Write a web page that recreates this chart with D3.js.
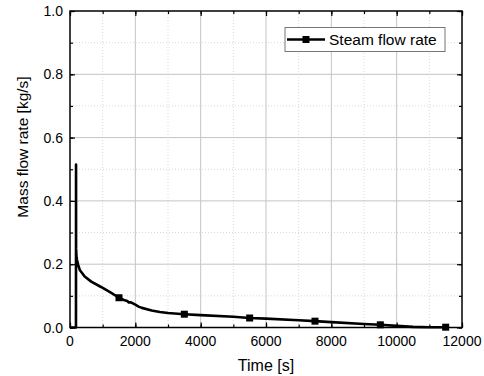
<!DOCTYPE html>
<html>
<head>
<meta charset="utf-8">
<script src="https://cdn.jsdelivr.net/npm/d3@7"></script>
<style>
  body { margin: 0; background: #fff; }
  text { font-family: "Liberation Sans", Arial, sans-serif; fill: #000; }
</style>
</head>
<body>
<svg width="484" height="376"></svg>
<script>
// time [s] and steam mass flow rate [kg/s]
var times = [0, 183, 185, 186, 200, 215, 250, 300, 450, 650, 950, 1250, 1500, 1650, 1750, 1800, 1850, 2000, 2100, 2200, 2500, 2750, 3000, 3500, 4000, 5000, 5500, 6000, 7000, 7500, 8000, 9000, 9500, 10000, 10500, 11000, 11550];
var flows = [0.0, 0.0, 0.515, 0.25, 0.222, 0.213, 0.198, 0.182, 0.161, 0.145, 0.128, 0.110, 0.094, 0.087, 0.084, 0.079, 0.080, 0.072, 0.066, 0.062, 0.054, 0.049, 0.046, 0.042, 0.039, 0.034, 0.030, 0.028, 0.023, 0.020, 0.017, 0.011, 0.0085, 0.005, 0.002, 0.001, 0.001];
var markerTimes = [1500, 3500, 5500, 7500, 9500, 11500];
var markerFlows = [0.094, 0.042, 0.030, 0.020, 0.0085, 0.001];
var xTicks = [0, 2000, 4000, 6000, 8000, 10000, 12000];
var yTicks = [0.0, 0.2, 0.4, 0.6, 0.8, 1.0];
var seriesName = "Steam flow rate";

var svg = d3.select("svg");
var pLeft = 70, pRight = 462, pTop = 11, pBottom = 327.5;

var x = d3.scaleLinear().domain([0, 12000]).range([pLeft, pRight]);
var y = d3.scaleLinear().domain([0, 1]).range([pBottom, pTop]);

var minorX = d3.range(0, 12001, 1000);
var minorY = d3.range(0, 11).map(function (d) { return d / 10; });

// minor grid (dotted)
svg.append("g").selectAll("line").data(minorX.filter(function (d) { return d % 2000 !== 0; }))
  .enter().append("line")
  .attr("x1", function (d) { return x(d); }).attr("x2", function (d) { return x(d); })
  .attr("y1", pTop).attr("y2", pBottom)
  .attr("stroke", "#d8d8d8").attr("stroke-dasharray", "1,2");
svg.append("g").selectAll("line").data([0.1, 0.3, 0.5, 0.7, 0.9])
  .enter().append("line")
  .attr("y1", function (d) { return y(d); }).attr("y2", function (d) { return y(d); })
  .attr("x1", pLeft).attr("x2", pRight)
  .attr("stroke", "#d8d8d8").attr("stroke-dasharray", "1,2");

// major grid
svg.append("g").selectAll("line").data(xTicks.slice(1, -1))
  .enter().append("line")
  .attr("x1", function (d) { return x(d); }).attr("x2", function (d) { return x(d); })
  .attr("y1", pTop).attr("y2", pBottom)
  .attr("stroke", "#c4c4c4").attr("stroke-width", 1);
svg.append("g").selectAll("line").data(yTicks.slice(1, -1))
  .enter().append("line")
  .attr("y1", function (d) { return y(d); }).attr("y2", function (d) { return y(d); })
  .attr("x1", pLeft).attr("x2", pRight)
  .attr("stroke", "#c4c4c4").attr("stroke-width", 1);

// axes with inward ticks on all sides
function addAxis(axisFn, scale, vals, size, transform) {
  svg.append("g")
    .attr("transform", transform)
    .call(axisFn(scale).tickValues(vals).tickSize(size).tickFormat(""))
    .call(function (g) { g.select(".domain").remove(); })
    .selectAll("line").attr("stroke", "#000").attr("stroke-width", 1.2);
}
addAxis(d3.axisBottom, x, xTicks, -5, "translate(0," + pBottom + ")");
addAxis(d3.axisBottom, x, minorX, -3, "translate(0," + pBottom + ")");
addAxis(d3.axisTop, x, xTicks, -5, "translate(0," + pTop + ")");
addAxis(d3.axisTop, x, minorX, -3, "translate(0," + pTop + ")");
addAxis(d3.axisLeft, y, yTicks, -5, "translate(" + pLeft + ",0)");
addAxis(d3.axisLeft, y, minorY, -3, "translate(" + pLeft + ",0)");
addAxis(d3.axisRight, y, yTicks, -5, "translate(" + pRight + ",0)");
addAxis(d3.axisRight, y, minorY, -3, "translate(" + pRight + ",0)");

// tick labels
svg.append("g").selectAll("text").data(xTicks).enter().append("text")
  .attr("x", function (d) { return x(d); })
  .attr("y", 346)
  .attr("text-anchor", "middle")
  .style("font-size", "14px")
  .text(function (d) { return d; });
svg.append("g").selectAll("text").data(yTicks).enter().append("text")
  .attr("x", 63)
  .attr("y", function (d) { return y(d) + 5; })
  .attr("text-anchor", "end")
  .style("font-size", "14px")
  .text(function (d) { return d.toFixed(1); });

// axis titles
svg.append("text")
  .attr("x", 266).attr("y", 371)
  .attr("text-anchor", "middle")
  .style("font-size", "16px")
  .text("Time [s]");
svg.append("text")
  .attr("transform", "translate(28,147) rotate(-90)")
  .attr("text-anchor", "middle")
  .style("font-size", "15.5px")
  .text("Mass flow rate [kg/s]");

// data line
svg.append("path")
  .datum(flows)
  .attr("d", d3.line()
    .x(function (d, i) { return x(times[i]); })
    .y(function (d) { return y(d); }))
  .attr("fill", "none")
  .attr("stroke", "#000")
  .attr("stroke-width", 2.6)
  .attr("stroke-linejoin", "round");

svg.append("g").selectAll("rect").data(markerFlows).enter().append("rect")
  .attr("x", function (d, i) { return x(markerTimes[i]) - 3.5; })
  .attr("y", function (d) { return y(d) - 3.5; })
  .attr("width", 7).attr("height", 7)
  .attr("fill", "#000");

// frame
svg.append("rect")
  .attr("x", pLeft).attr("y", pTop)
  .attr("width", pRight - pLeft).attr("height", pBottom - pTop)
  .attr("fill", "none").attr("stroke", "#000").attr("stroke-width", 1.5);

// legend
var lg = svg.append("g");
lg.append("rect")
  .attr("x", 285).attr("y", 27.5).attr("width", 160).attr("height", 24)
  .attr("fill", "#fff").attr("stroke", "#777").attr("stroke-width", 1);
lg.append("line")
  .attr("x1", 287).attr("x2", 325).attr("y1", 39.5).attr("y2", 39.5)
  .attr("stroke", "#000").attr("stroke-width", 2.6);
lg.append("rect")
  .attr("x", 302.5).attr("y", 36).attr("width", 7).attr("height", 7)
  .attr("fill", "#000");
lg.append("text")
  .attr("x", 329).attr("y", 45)
  .style("font-size", "15.5px")
  .text(seriesName);
</script>
</body>
</html>
